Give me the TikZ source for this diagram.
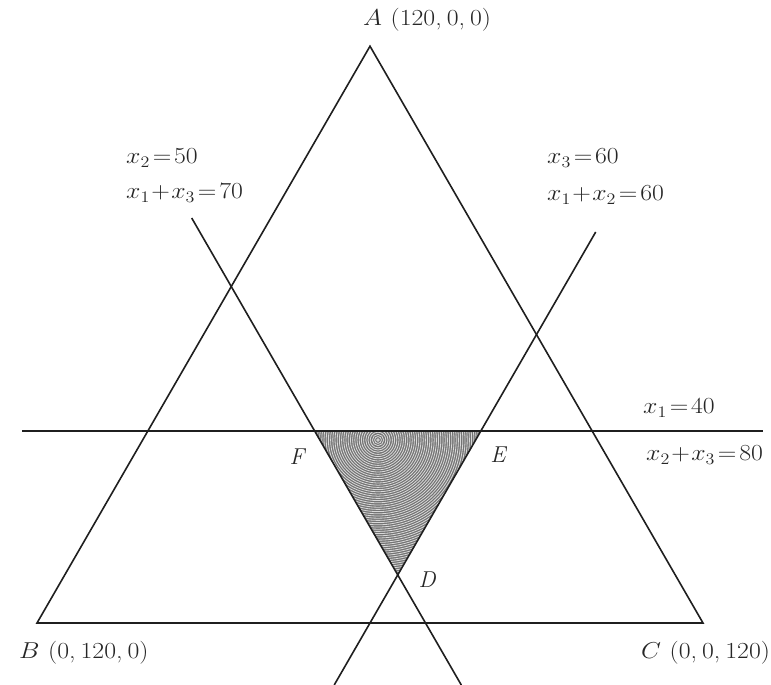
\RequirePackage{fix-cm}
\documentclass[tikz,border=0pt]{standalone}
\usepackage{graphicx}
\usepackage{tikz}
\usetikzlibrary{calc}
\newcommand{\wide}[1]{\scalebox{1.12}[1]{#1}}
\newcommand{\cm}{,\kern4.5pt}
\begin{document}
\begin{tikzpicture}[x=1pt,y=-1pt,
  edge/.style={line width=1.6pt,black!88},
  lbl/.style={inner sep=0pt,font=\fontsize{23}{27}\selectfont,text=black!85},
  vlbl/.style={inner sep=0pt,font=\fontsize{23}{27}\selectfont\itshape,text=black!85}]
\useasboundingbox (0,0) rectangle (771,685);
% vertices
\coordinate (A) at (370,46.2);
\coordinate (B) at (37,623);
\coordinate (C) at (703,623);
\coordinate (F) at (314.5,430.7);
\coordinate (E) at (481,430.7);
\coordinate (D) at (397.75,574.9);
% line ends
\coordinate (h1) at (22,430.7);
\coordinate (h2) at (763,430.7);
\coordinate (p1) at (191.7,218);
\coordinate (p2) at (461.3,685);
\coordinate (q1) at (595.7,232);
\coordinate (q2) at (334.2,685);
% shaded region
\fill[black!55] (F) -- (E) -- (D) -- cycle;
\begin{scope}
\clip (F) -- (E) -- (D) -- cycle;
\foreach \r in {1.2,3.4,...,200} {
  \draw[white!85!black,line width=0.8pt] (378,440) circle (\r);
}
\end{scope}
% triangle
\draw[edge,line join=miter] (A) -- (B) -- (C) -- cycle;
% lines
\draw[edge] (h1) -- (h2);
\draw[edge] (p1) -- (p2);
\draw[edge] (q1) -- (q2);
% labels
\node[lbl,anchor=west] (la) at (363,20) {\wide{$A$\,\,(120\cm0\cm0)}};
\node[lbl,anchor=west] (lb) at (19,653) {\wide{$B$\,\,(0\cm120\cm0)}};
\node[lbl,anchor=west] (lc) at (641,653) {\wide{$C$\,\,(0\cm0\cm120)}};
\node[lbl,anchor=west] (l1) at (126,158) {\wide{$x_2\!=\!50$}};
\node[lbl,anchor=west] (l2) at (126,193) {\wide{$x_1\!+\!x_3\!=\!70$}};
\node[lbl,anchor=west] (l3) at (547,158) {\wide{$x_3\!=\!60$}};
\node[lbl,anchor=west] (l4) at (547,195) {\wide{$x_1\!+\!x_2\!=\!60$}};
\node[lbl,anchor=west] (l5) at (643,408) {\wide{$x_1\!=\!40$}};
\node[lbl,anchor=west] (l6) at (646,455) {\wide{$x_2\!+\!x_3\!=\!80$}};
\node[vlbl] (lf) at (297,457) {F};
\node[vlbl] (le) at (498,455) {E};
\node[vlbl] (ld) at (427,580) {D};
\end{tikzpicture}
\end{document}
